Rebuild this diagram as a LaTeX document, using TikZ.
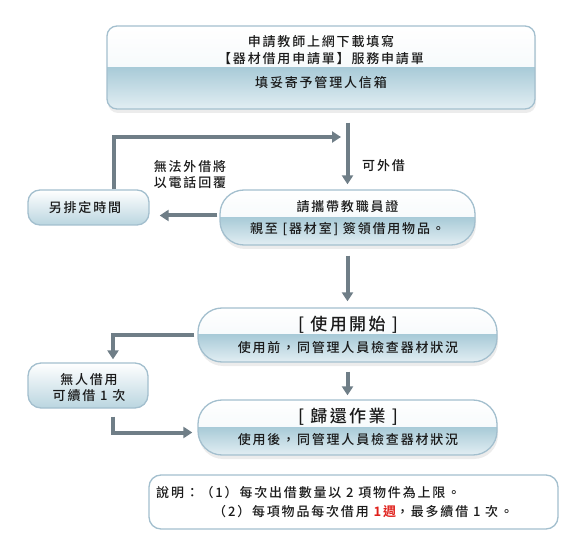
\documentclass[tikz,border=0pt]{standalone}
\usepackage{fontspec}
\setmainfont{Noto Sans CJK TC}[UprightFont=* Medium, BoldFont=* Bold, LetterSpace=14]
\usetikzlibrary{arrows.meta,shadows}

\definecolor{boxline}{HTML}{A3BFCE}
\definecolor{boxhi}{HTML}{EEF5F8}
\definecolor{boxmid}{HTML}{A9CBD8}
\definecolor{boxlow}{HTML}{E2EEF3}
\definecolor{flowgray}{HTML}{6F7E87}
\definecolor{inkgray}{HTML}{1A1A1A}
\definecolor{weekred}{HTML}{E0201B}

\tikzset{
  flowbox/.style={draw=boxline, line width=1.3pt, rounded corners=#1, inner sep=0pt,
    fill=white, drop shadow={opacity=0.15, shadow xshift=1pt, shadow yshift=-4pt},
    path picture={
      \shade[sharp corners, top color=white, bottom color=boxhi]
        (path picture bounding box.north west) rectangle (path picture bounding box.east);
      \shade[sharp corners, top color=boxmid, bottom color=boxlow]
        (path picture bounding box.west) rectangle (path picture bounding box.south east);
    }},
  flowbox/.default=10pt,
  sidebox/.style={draw=boxline, line width=1.3pt, rounded corners=13pt, inner sep=0pt,
    top color=white, bottom color=boxmid!80},
  notebox/.style={draw=boxline, line width=1.3pt, rounded corners=12pt, fill=white},
  flowarrow/.style={draw=flowgray, line width=4pt, -{Triangle[length=9pt,width=11pt]}},
  txt/.style={text=inkgray, font=\fontsize{13}{16}\selectfont, inner sep=0pt},
  headtxt/.style={text=inkgray, font=\fontsize{17}{20}\selectfont, inner sep=0pt}
}

\begin{document}
\begin{tikzpicture}[x=1pt, y=-1pt]
\useasboundingbox (0,0) rectangle (573,553);

% boxes
\node (apply) [flowbox=10pt, minimum width=428pt, minimum height=83pt] at (321,67.5) {};
\node (check) [flowbox=24pt, minimum width=255pt, minimum height=55pt] at (347.5,217.5) {};
\node (later) [sidebox, rounded corners=12pt, minimum width=121pt, minimum height=35pt] at (88.5,207.5) {};
\node (start) [flowbox=24pt, minimum width=299pt, minimum height=54pt] at (347.5,335) {};
\node (renew) [sidebox, minimum width=120pt, minimum height=45pt] at (88,385.5) {};
\node (return) [flowbox=24pt, minimum width=299pt, minimum height=55pt] at (347.5,427.5) {};
\node (note) [notebox, minimum width=409pt, minimum height=54pt] at (353.5,502) {};

% texts
\node (apply1) [txt] at (321,42) {申請教師上網下載填寫};
\node (apply2) [txt] at (321,59) {【器材借用申請單】服務申請單};
\node (apply3) [txt] at (321,83) {填妥寄予管理人信箱};
\node (check1) [txt] at (347.5,207) {請攜帶教職員證};
\node (check2) [txt] at (347.5,229) {親至 [器材室] 簽領借用物品。};
\node (later1) [txt] at (85,208) {另排定時間};
\node (start1) [headtxt] at (348,325) {[ 使用開始 ]};
\node (start2) [txt] at (348,348) {使用前，同管理人員檢查器材狀況};
\node (renew1) [txt, align=center] at (89,388) {無人借用\\可續借 1 次};
\node (return1) [headtxt] at (348,417) {[ 歸還作業 ]};
\node (return2) [txt] at (348,440) {使用後，同管理人員檢查器材狀況};
\node (note1) [txt, anchor=west] at (156,493) {說明：（1）每次出借數量以 2 項物件為上限。};
\node (note2) [txt, anchor=west] at (213,512) {（2）每項物品每次借用 \textcolor{weekred}{\bfseries 1週}，最多續借 1 次。};

% labels
\node (okay) [txt, anchor=west] at (362,166) {可外借};
\node (phone) [txt, align=center] at (190,175) {無法外借將\\以電話回覆};

% connectors
\coordinate (merge) at (341,137);
\draw[flowarrow, shorten <=13pt, shorten >=5pt] (apply.south -| check.north) -- (check.north);
\draw[flowarrow] ([xshift=25pt]later.north) |- (merge);
\draw[flowarrow, shorten <=2pt, shorten >=10pt] ([yshift=2pt]check.west) -- ([yshift=2pt]check.west -| later.east);
\draw[flowarrow, shorten <=10pt, shorten >=6pt] (check.south) -- (start.north);
\draw[flowarrow, shorten <=3pt, shorten >=3pt] (start.west) -| ([xshift=25pt]renew.north);
\draw[flowarrow, shorten <=9pt, shorten >=4pt] (start.south) -- (return.north);
\draw[flowarrow, shorten <=8pt, shorten >=5pt] ([xshift=25pt]renew.south) |- ([yshift=-5pt]return.west);
\end{tikzpicture}
\end{document}
